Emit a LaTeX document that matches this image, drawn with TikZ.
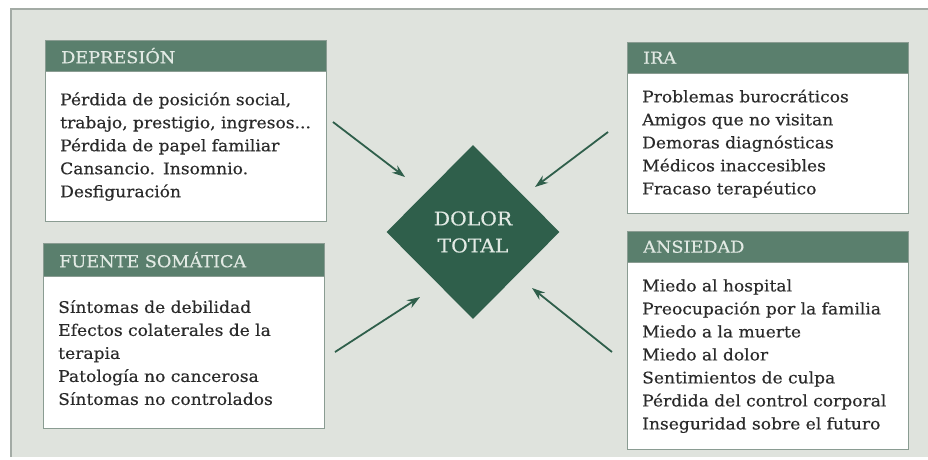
\documentclass[tikz,border=0pt]{standalone}
\usepackage{fontspec}
\setmainfont{DejaVu Serif}[FakeStretch=1.07,FakeBold=0.4]
\usetikzlibrary{arrows.meta,shapes.geometric,positioning}
\definecolor{panel}{HTML}{DFE3DD}
\definecolor{panelline}{HTML}{A3ABA5}
\definecolor{headgreen}{HTML}{5A7F6D}
\definecolor{darkgreen}{HTML}{2F5F4B}
\definecolor{headtext}{HTML}{E2EAE4}
\definecolor{bodytext}{HTML}{2A2A2A}
\definecolor{boxline}{HTML}{8A9C92}
\tikzset {>=Stealth}
\tikzset{
  head/.style={draw=boxline,fill=headgreen,text=headtext,anchor=north west,
    minimum height=31pt,inner xsep=16pt,inner ysep=0pt,text width=249pt,
    align=left,font=\fontsize{16.5}{18}\selectfont},
  body/.style={draw=boxline,fill=white,text=bodytext,
    inner xsep=15pt,text width=251pt,align=left,
    font=\fontsize{16}{23}\selectfont},
  feed/.style={-{Stealth[length=13pt,width=9pt]},darkgreen,line width=1.8pt}
}

\begin{document}
\begin{tikzpicture}[x=1pt,y=-1pt]
\useasboundingbox (0,0) rectangle (928,459);
\fill[panel] (11,9) rectangle (928,457);
\draw[panelline,line width=1.2pt] (928,9) -- (11,9) -- (11,457);

% boxes on the left
\node[head] (dephead) at (45,40) {DEPRESIÓN};
\node[body,minimum height=150pt,below=0pt of dephead] (depbody)
  {Pérdida de posición social,\\\mbox{trabajo, prestigio, ingresos...}\\Pérdida de papel familiar\\Cansancio. Insomnio.\\Desfiguración};
\node[head,minimum height=33pt] (somhead) at (43,243) {FUENTE SOMÁTICA};
\node[body,minimum height=152pt,below=0pt of somhead] (sombody)
  {Síntomas de debilidad\\Efectos colaterales de la\\terapia\\Patología no cancerosa\\Síntomas no controlados};

% boxes on the right
\node[head] (irahead) at (627,42) {IRA};
\node[body,minimum height=140pt,below=0pt of irahead] (irabody)
  {Problemas burocráticos\\Amigos que no visitan\\Demoras diagnósticas\\Médicos inaccesibles\\Fracaso terapéutico};
\node[head] (anshead) at (627,231) {ANSIEDAD};
\node[body,minimum height=187pt,below=0pt of anshead] (ansbody)
  {Miedo al hospital\\Preocupación por la familia\\Miedo a la muerte\\Miedo al dolor\\Sentimientos de culpa\\Pérdida del control corporal\\Inseguridad sobre el futuro};

\node[diamond,fill=darkgreen,text=headtext,minimum width=173pt,minimum height=174pt,
  inner sep=0pt,align=center,font=\fontsize{19}{27}\selectfont] (dolor) at (473,232)
  {DOLOR\\TOTAL};

\coordinate (dep1) at (333,122);  \coordinate (dep2) at (405,177);
\coordinate (ira1) at (608,132);  \coordinate (ira2) at (535,187);
\coordinate (som1) at (335,352);  \coordinate (som2) at (420,297);
\coordinate (ans1) at (612,352);  \coordinate (ans2) at (532,288);
\foreach \s in {dep,ira,som,ans}
  \draw[feed] (\s1) -- (\s2);
\end{tikzpicture}
\end{document}
